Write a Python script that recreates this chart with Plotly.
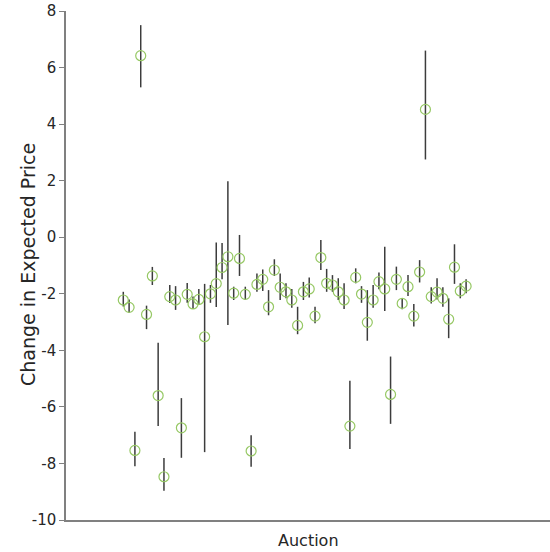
import plotly.graph_objects as go

auction = list(range(1, 61))
change = [-2.22, -2.48, -7.54, 6.42, -2.73, -1.37, -5.6, -8.47, -2.1, -2.22,
          -6.74, -2.02, -2.36, -2.2, -3.52, -2.0, -1.64, -1.07, -0.69, -1.98,
          -0.75, -2.02, -7.56, -1.67, -1.49, -2.46, -1.16, -1.77, -1.93, -2.22,
          -3.12, -1.93, -1.83, -2.79, -0.72, -1.63, -1.69, -1.93, -2.22, -6.68,
          -1.42, -2.01, -3.01, -2.22, -1.57, -1.83, -5.56, -1.49, -2.34, -1.75,
          -2.79, -1.23, 4.52, -2.1, -1.94, -2.16, -2.9, -1.06, -1.9, -1.73]
upper = [-1.93, -2.2, -6.88, 7.5, -2.42, -1.05, -3.73, -7.81, -1.69, -1.73,
         -5.69, -1.62, -2.1, -1.83, -1.65, -1.69, -0.19, -0.2, 1.98, -1.75,
         0.08, -1.75, -7.0, -1.28, -1.14, -1.87, -0.78, -1.28, -1.63, -1.83,
         -2.46, -1.58, -1.42, -2.46, -0.1, -1.12, -1.34, -1.45, -1.63, -5.08,
         -1.1, -1.73, -1.87, -1.69, -1.25, -0.34, -4.22, -1.04, -2.16, -1.34,
         -2.36, -0.81, 6.6, -1.77, -1.45, -1.77, -2.16, -0.25, -1.63, -1.49]
lower = [-2.45, -2.67, -8.1, 5.3, -3.25, -1.69, -6.68, -8.97, -2.33, -2.57,
         -7.8, -2.32, -2.54, -2.4, -7.6, -2.32, -2.47, -1.49, -3.1, -2.22,
         -1.37, -2.22, -8.12, -1.93, -1.9, -2.76, -1.37, -2.22, -2.16, -2.49,
         -3.43, -2.22, -2.13, -3.04, -1.16, -1.93, -1.93, -2.22, -2.54, -7.49,
         -1.63, -2.32, -3.66, -2.49, -1.84, -2.61, -6.6, -1.87, -2.55, -2.08,
         -3.16, -1.6, 2.75, -2.34, -2.2, -2.46, -3.57, -1.65, -2.16, -1.98]
ytick_vals = [-10, -8, -6, -4, -2, 0, 2, 4, 6, 8]
ytick_text = ["-10", "-8", "-6", "-4", "-2", "0", "2", "4", "6", "8"]

err_plus = [u - c for u, c in zip(upper, change)]
err_minus = [c - l for c, l in zip(change, lower)]

fig = go.Figure()
fig.add_trace(go.Scatter(
    x=auction, y=change, mode="markers",
    marker=dict(symbol="circle-open", size=10, color="#96c864",
                line=dict(width=1.2, color="#96c864")),
    error_y=dict(type="data", symmetric=False, array=err_plus,
                 arrayminus=err_minus, width=0, thickness=1.5,
                 color="#3c3c3c"),
    showlegend=False,
))

fig.update_layout(
    width=550, height=552,
    margin=dict(l=66, r=0, t=11, b=32),
    plot_bgcolor="white", paper_bgcolor="white",
    font=dict(family="DejaVu Sans", color="#262626"),
    xaxis=dict(range=[-8.86, 74.44], showticklabels=False, ticks="",
               showgrid=False, zeroline=False, showline=True,
               linecolor="#808080", linewidth=1.5, automargin=False),
    yaxis=dict(range=[-10, 8], tickvals=ytick_vals, ticktext=ytick_text,
               ticks="outside", ticklen=5, tickcolor="#808080",
               showgrid=False, zeroline=False, showline=True,
               linecolor="#808080", linewidth=1.5, automargin=False,
               ticklabeloverflow="allow", tickfont=dict(size=15)),
    annotations=[
        dict(text="Change in Expected Price", xref="paper", yref="paper",
             x=-0.0785, y=0.501, xanchor="center", yanchor="middle",
             textangle=-90, showarrow=False, font=dict(size=19)),
        dict(text="Auction", xref="paper", yref="paper",
             x=0.5, y=-0.0393, xanchor="center", yanchor="middle",
             showarrow=False, font=dict(size=16)),
    ],
)

fig.write_html(
    "out.html",
    config={"displayModeBar": False},
    post_script="document.body.style.margin='0';document.body.style.overflow='hidden';",
)
